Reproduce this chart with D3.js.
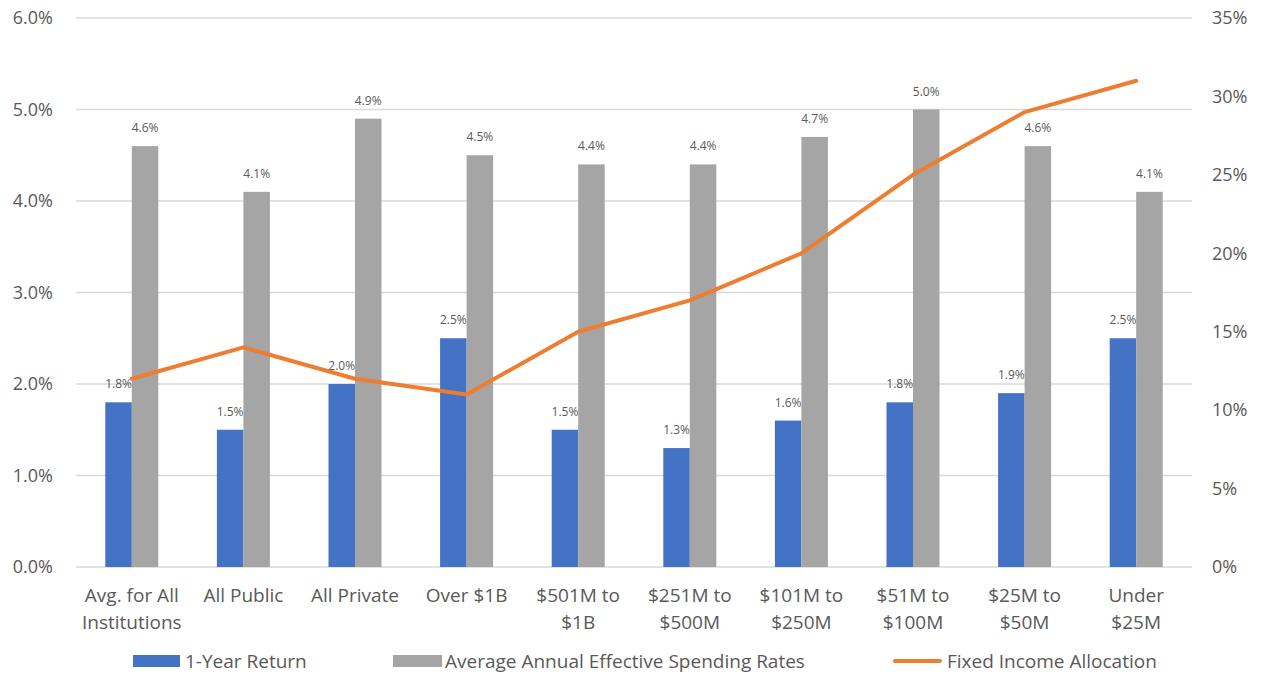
<!DOCTYPE html>
<html>
<head>
<meta charset="utf-8">
<script src="https://cdn.jsdelivr.net/npm/d3@7"></script>
<style>
  body { margin: 0; background: #fff; }
  svg text { font-family: "Open Sans", "Noto Sans", sans-serif; fill: #595959; }
</style>
</head>
<body>
<svg id="chart" width="1261" height="675"></svg>
<script>
const categories = [
  ['Avg. for All', 'Institutions'], ['All Public'], ['All Private'], ['Over $1B'],
  ['$501M to', '$1B'], ['$251M to', '$500M'], ['$101M to', '$250M'],
  ['$51M to', '$100M'], ['$25M to', '$50M'], ['Under', '$25M']
];
const oneYearReturn = [1.8, 1.5, 2.0, 2.5, 1.5, 1.3, 1.6, 1.8, 1.9, 2.5];
const spendingRate = [4.6, 4.1, 4.9, 4.5, 4.4, 4.4, 4.7, 5.0, 4.6, 4.1];
const fixedIncome = [12, 14, 12, 11, 15, 17, 20, 25, 29, 31];
const leftTicks = [0, 1, 2, 3, 4, 5, 6];
const rightTicks = [0, 5, 10, 15, 20, 25, 30, 35];
const seriesNames = ['1-Year Return', 'Average Annual Effective Spending Rates', 'Fixed Income Allocation'];
const colors = ['#4472C4', '#A5A5A5', '#ED7D31'];

const svg = d3.select('#chart');
const plot = { left: 76, right: 1192, top: 18, bottom: 567 };

const keys = categories.map((c, i) => i);
const x0 = d3.scaleBand().domain(keys).range([plot.left, plot.right]).padding(0);
const x1 = d3.scaleBand().domain([0, 1]).range([0, x0.bandwidth()])
    .paddingInner(0).paddingOuter(1.105);
const yL = d3.scaleLinear().domain([0, 6]).range([plot.bottom, plot.top]);
const yR = d3.scaleLinear().domain([0, 35]).range([plot.bottom, plot.top]);

// gridlines
svg.append('g').selectAll('line')
    .data(leftTicks)
    .join('line')
    .attr('x1', plot.left).attr('x2', plot.right)
    .attr('y1', d => yL(d)).attr('y2', d => yL(d))
    .attr('stroke', '#D9D9D9').attr('stroke-width', 1.5);

// left axis
const axL = svg.append('g')
    .attr('transform', `translate(${plot.left},0)`)
    .call(d3.axisLeft(yL).tickValues(leftTicks).tickFormat(d => d.toFixed(1) + '%').tickSize(0).tickPadding(23));
axL.select('.domain').remove();
axL.selectAll('text').style('font-size', '18px').attr('fill', '#595959');

// right axis
const axR = svg.append('g')
    .attr('transform', `translate(${plot.right},0)`)
    .call(d3.axisRight(yR).tickValues(rightTicks).tickFormat(d => d + '%').tickSize(0).tickPadding(20));
axR.select('.domain').remove();
axR.selectAll('text').style('font-size', '18px').attr('fill', '#595959');

// bars
const barSeries = [oneYearReturn, spendingRate];
barSeries.forEach((vals, s) => {
    const g = svg.append('g');
    g.selectAll('rect')
        .data(vals)
        .join('rect')
        .attr('x', (d, i) => x0(i) + x1(s))
        .attr('width', x1.bandwidth())
        .attr('y', d => yL(d))
        .attr('height', d => yL(0) - yL(d))
        .attr('fill', colors[s]);
    g.selectAll('text')
        .data(vals)
        .join('text')
        .attr('x', (d, i) => x0(i) + x1(s) + x1.bandwidth() / 2)
        .attr('y', d => yL(d) - 14)
        .attr('text-anchor', 'middle')
        .style('font-size', '12px')
        .text(d => d.toFixed(1) + '%');
});

// line
const line = d3.line()
    .x((d, i) => x0(i) + x0.bandwidth() / 2)
    .y(d => yR(d));
svg.append('path')
    .datum(fixedIncome)
    .attr('d', line)
    .attr('fill', 'none')
    .attr('stroke', colors[2])
    .attr('stroke-width', 4)
    .attr('stroke-linecap', 'round')
    .attr('stroke-linejoin', 'round');

// category labels
const catG = svg.append('g');
categories.forEach((lines, i) => {
    const t = catG.append('text')
        .attr('x', x0(i) + x0.bandwidth() / 2)
        .attr('y', 602)
        .attr('text-anchor', 'middle')
        .style('font-size', '19px');
    lines.forEach((l, j) => {
        t.append('tspan')
            .attr('x', x0(i) + x0.bandwidth() / 2)
            .attr('dy', j === 0 ? 0 : 27)
            .text(l);
    });
});

// legend
const legendX = [133, 393, 893];
const lg = svg.append('g');
seriesNames.forEach((name, i) => {
    if (i < 2) {
        lg.append('rect')
            .attr('x', legendX[i]).attr('y', 655)
            .attr('width', i === 0 ? 47 : 49).attr('height', 12)
            .attr('fill', colors[i]);
    } else {
        lg.append('line')
            .attr('x1', legendX[i] + 2).attr('x2', legendX[i] + 47)
            .attr('y1', 661).attr('y2', 661)
            .attr('stroke', colors[i]).attr('stroke-width', 4)
            .attr('stroke-linecap', 'round');
    }
    lg.append('text')
        .attr('x', legendX[i] + (i === 2 ? 54 : 52))
        .attr('y', 668)
        .style('font-size', '19px')
        .text(name);
});
</script>
</body>
</html>
